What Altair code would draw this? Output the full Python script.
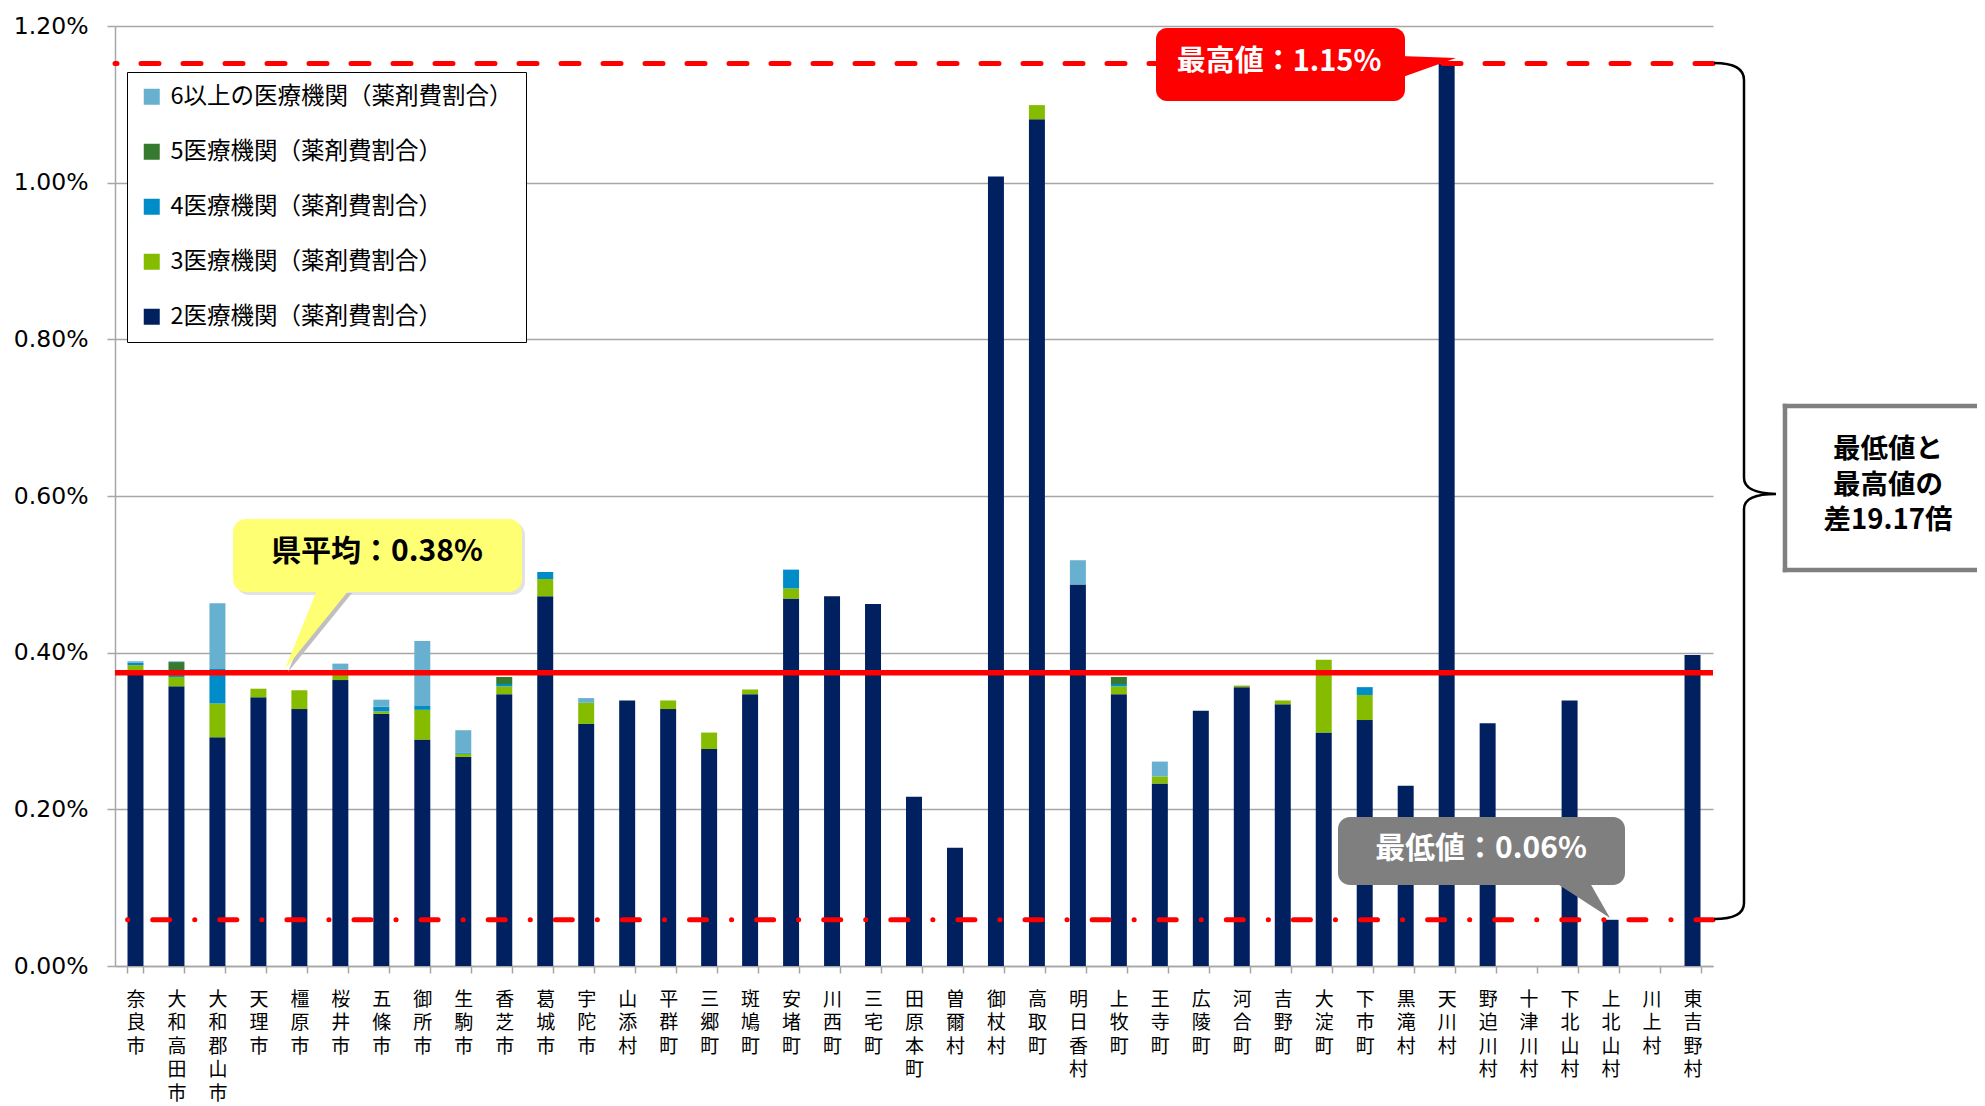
import altair as alt
import pandas as pd

# ---------------- data ----------------
names = ["奈良市", "大和高田市", "大和郡山市", "天理市", "橿原市", "桜井市", "五條市", "御所市",
         "生駒市", "香芝市", "葛城市", "宇陀市", "山添村", "平群町", "三郷町", "斑鳩町", "安堵町",
         "川西町", "三宅町", "田原本町", "曽爾村", "御杖村", "高取町", "明日香村", "上牧町", "王寺町",
         "広陵町", "河合町", "吉野町", "大淀町", "下市町", "黒滝村", "天川村", "野迫川村", "十津川村",
         "下北山村", "上北山村", "川上村", "東吉野村"]

# 2医療機関 (bottom of stack)
s2 = [0.375, 0.357, 0.292, 0.343, 0.328, 0.365, 0.322, 0.289, 0.267, 0.347, 0.472, 0.309, 0.339,
      0.328, 0.277, 0.347, 0.469, 0.472, 0.462, 0.216, 0.151, 1.008, 1.081, 0.487, 0.347, 0.233,
      0.326, 0.356, 0.334, 0.298, 0.314, 0.230, 1.152, 0.310, 0.0, 0.339, 0.059, 0.0, 0.397]
# 3医療機関
s3 = [0.009, 0.012, 0.043, 0.011, 0.024, 0.013, 0.003, 0.038, 0.004, 0.010, 0.022, 0.027, 0.0,
      0.011, 0.021, 0.006, 0.013, 0.0, 0.0, 0.0, 0.0, 0.0, 0.018, 0.0, 0.010, 0.009,
      0.0, 0.002, 0.005, 0.093, 0.032, 0.0, 0.0, 0.0, 0.0, 0.0, 0.0, 0.0, 0.0]
# 4医療機関
s4 = [0.003, 0.005, 0.044, 0.0, 0.0, 0.0, 0.006, 0.005, 0.001, 0.003, 0.009, 0.0, 0.0,
      0.0, 0.0, 0.0, 0.024, 0.0, 0.0, 0.0, 0.0, 0.0, 0.0, 0.0, 0.003, 0.0,
      0.0, 0.0, 0.0, 0.0, 0.010, 0.0, 0.0, 0.0, 0.0, 0.0, 0.0, 0.0, 0.0]
# 5医療機関
s5 = [0.0, 0.014, 0.0, 0.0, 0.0, 0.0, 0.0, 0.0, 0.0, 0.009, 0.0, 0.0, 0.0,
      0.0, 0.0, 0.0, 0.0, 0.0, 0.0, 0.0, 0.0, 0.0, 0.0, 0.0, 0.009, 0.0,
      0.0, 0.0, 0.0, 0.0, 0.0, 0.0, 0.0, 0.0, 0.0, 0.0, 0.0, 0.0, 0.0]
# 6以上の医療機関
s6 = [0.002, 0.001, 0.084, 0.0, 0.0, 0.008, 0.009, 0.083, 0.029, 0.0, 0.0, 0.006, 0.0,
      0.0, 0.0, 0.0, 0.0, 0.0, 0.0, 0.0, 0.0, 0.0, 0.0, 0.031, 0.0, 0.019,
      0.0, 0.0, 0.0, 0.0, 0.0, 0.0, 0.0, 0.0, 0.0, 0.0, 0.0, 0.0, 0.0]

series_labels = ["6以上の医療機関（薬剤費割合）", "5医療機関（薬剤費割合）", "4医療機関（薬剤費割合）",
                 "3医療機関（薬剤費割合）", "2医療機関（薬剤費割合）"]
series_colors = ["#67B0CF", "#357A2E", "#008CC8", "#85BC00", "#002060"]

avg_value = 0.3745
max_value = 1.152
min_value = 0.059
y_ticks = [0.0, 0.2, 0.4, 0.6, 0.8, 1.0, 1.2]

avg_text = "県平均：0.38%"
max_text = "最高値：1.15%"
min_text = "最低値：0.06%"
ratio_text = ["最低値と", "最高値の", "差19.17倍"]

# ---------------- table ----------------
stack_series = [s2, s3, s4, s5, s6]
stack_labels = series_labels[::-1]
rows = []
for i, n in enumerate(names):
    for k in range(5):
        rows.append({"name": n, "series": stack_labels[k], "value": stack_series[k][i], "rank": k})
df = pd.DataFrame(rows)

CJK = "Noto Sans CJK JP"
GRAY = "#A6A6A6"
W, H = 1598, 940
OX, OY = 115, 26  # plot origin in page pixels
SVG_H = 1097


def X(v):
    return v - OX


def Y(v):
    return v - OY


dummy = pd.DataFrame({"a": [0]})

bars = alt.Chart(df).mark_bar().encode(
    x=alt.X("name:N", sort=names,
            scale=alt.Scale(paddingInner=0.61, paddingOuter=0.305),
            axis=alt.Axis(title=None, labelAngle=0, labelExpr="split(datum.label, '')",
                          labelFont=CJK, labelFontSize=19, labelLineHeight=23.6,
                          labelColor="#000", labelPadding=17, labelBaseline="top",
                          labelOverlap=False, labelLimit=1000, labelBound=False,
                          tickBand="extent", tickSize=7, tickColor=GRAY, tickWidth=1.5,
                          domainColor=GRAY, domainWidth=1.5, grid=False)),
    y=alt.Y("value:Q", stack="zero",
            scale=alt.Scale(domain=[0, 1.2], nice=False),
            axis=alt.Axis(title=None, values=y_ticks,
                          labelExpr="format(datum.value, '.2f') + '%'",
                          labelFont="DejaVu Sans", labelFontSize=23.5, labelColor="#000",
                          labelPadding=19, tickSize=8, tickColor=GRAY, tickWidth=1.5,
                          gridColor=GRAY, gridWidth=1.5, domainColor=GRAY, domainWidth=1.5)),
    color=alt.Color("series:N", scale=alt.Scale(domain=series_labels, range=series_colors),
                    legend=alt.Legend(orient="none", legendX=12, legendY=46, title=None,
                                      symbolType="square", symbolSize=256, symbolStrokeWidth=0,
                                      symbolOpacity=1, labelFont=CJK, labelFontSize=23.5,
                                      labelColor="#000", labelLimit=800, labelOffset=7,
                                      rowPadding=30, padding=13, strokeColor="#000",
                                      fillColor="#FFFFFF",
                                      labelExpr="datum.label + '\u2002'")),
    order=alt.Order("rank:Q", sort="ascending"),
)

avg_rule = alt.Chart(pd.DataFrame({"v": [avg_value]})).mark_rule(
    color="#FF0000", strokeWidth=5.5).encode(y="v:Q")
max_rule = alt.Chart(pd.DataFrame({"v": [max_value]})).mark_rule(
    color="#FF0000", strokeWidth=5, strokeDash=[18, 24], strokeCap="round").encode(y="v:Q")
min_rule = alt.Chart(pd.DataFrame({"v": [min_value]})).mark_rule(
    color="#FF0000", strokeWidth=5, strokeDash=[17, 25, 0.1, 25], strokeCap="round").encode(y="v:Q")


def box(l, t, r, b, **kw):
    return alt.Chart(dummy).mark_rect(**kw).encode(
        x=alt.value(X(l)), x2=alt.value(X(r)), y=alt.value(Y(t)), y2=alt.value(Y(b)))


def seg(x1, y1, x2, y2, **kw):
    return alt.Chart(dummy).mark_rule(**kw).encode(
        x=alt.value(X(x1)), x2=alt.value(X(x2)), y=alt.value(Y(y1)), y2=alt.value(Y(y2)))


def path_shape(cmds, cx, cy, unit=100.0):
    parts = []
    for c, pts in cmds:
        coords = " ".join(f"{(px - cx) / unit:.4f},{(py - cy) / unit:.4f}" for px, py in pts)
        parts.append(f"{c}{coords}")
    return " ".join(parts)


def shape(cmds, cx, cy, closed=True, **kw):
    p = path_shape(cmds, cx, cy) + (" Z" if closed else "")
    return alt.Chart(dummy).mark_point(shape=p, size=40000, opacity=1, **kw).encode(
        x=alt.value(X(cx)), y=alt.value(Y(cy)))


def tri(pts, **kw):
    cx = sum(p[0] for p in pts) / 3
    cy = sum(p[1] for p in pts) / 3
    cmds = [("M", [pts[0]]), ("L", [pts[1]]), ("L", [pts[2]])]
    return shape(cmds, cx, cy, closed=True, filled=True, strokeWidth=0, **kw)


def label(x, y, txt, size, color, **kw):
    return alt.Chart(dummy).mark_text(text=txt, font=CJK, fontSize=size, fontWeight="bold",
                                      color=color, align="center", baseline="middle", **kw).encode(
        x=alt.value(X(x)), y=alt.value(Y(y)))


annots = []
# yellow callout (average)
annots.append(box(236, 522, 525, 595, fill="#BFBFBF", opacity=0.45, cornerRadius=13))
annots.append(tri([(320, 593), (352, 593), (288, 672)], fill="#BFBFBF", color="#BFBFBF"))
annots.append(box(233, 519, 522, 592, fill="#FFFF73", cornerRadius=13))
annots.append(tri([(317, 590), (349, 590), (285, 669)], fill="#FFFF73", color="#FFFF73"))
annots.append(label(377, 552, avg_text, 30, "#000"))

# red callout (max)
annots.append(box(1156, 28, 1405, 101, fill="#FF0000", cornerRadius=11))
annots.append(tri([(1400, 56), (1400, 78), (1456, 58)], fill="#FF0000", color="#FF0000"))
annots.append(label(1279, 62, max_text, 29, "#FFFFFF"))

# gray callout (min)
annots.append(box(1338, 817, 1625, 885, fill="#7F7F7F", cornerRadius=12))
annots.append(tri([(1556, 883), (1590, 883), (1610, 918)], fill="#7F7F7F", color="#7F7F7F"))
annots.append(label(1481, 849, min_text, 30, "#FFFFFF"))

# brace
brace_cmds = [("M", [(1714, 63)]), ("Q", [(1744, 63), (1744, 80)]), ("L", [(1744, 478)]),
              ("Q", [(1744, 493), (1776, 494)]), ("Q", [(1744, 494), (1744, 509)]),
              ("L", [(1744, 903)]), ("Q", [(1744, 919), (1714, 919)])]
annots.append(shape(brace_cmds, 1744, 493, closed=False, filled=False, color="#000000",
                    strokeWidth=2.5, fill="transparent"))

# ratio box (open to the right, cut by the page edge)
annots.append(box(1785, 406, 2030, 570, fill="#FFFFFF"))
for (a, b, c, d) in [(1785, 406, 2030, 406), (1785, 406, 1785, 570), (1785, 570, 2030, 570)]:
    annots.append(seg(a, b, c, d, color="#808080", strokeWidth=4.5, strokeCap="square"))
annots.append(label(1888, 450, ratio_text, 27.5, "#000", lineHeight=35.5))

chart = alt.layer(bars, avg_rule, max_rule, min_rule, *annots).properties(
    width=W, height=H,
    padding={"left": OX - 8, "top": OY - 8, "right": 264, "bottom": SVG_H - (OY - 8) - H},
    autosize=alt.AutoSizeParams(type="none"),
    background="#FFFFFF",
).configure_view(strokeWidth=0)

chart.save("out.html", embed_options={"renderer": "svg", "actions": False})
